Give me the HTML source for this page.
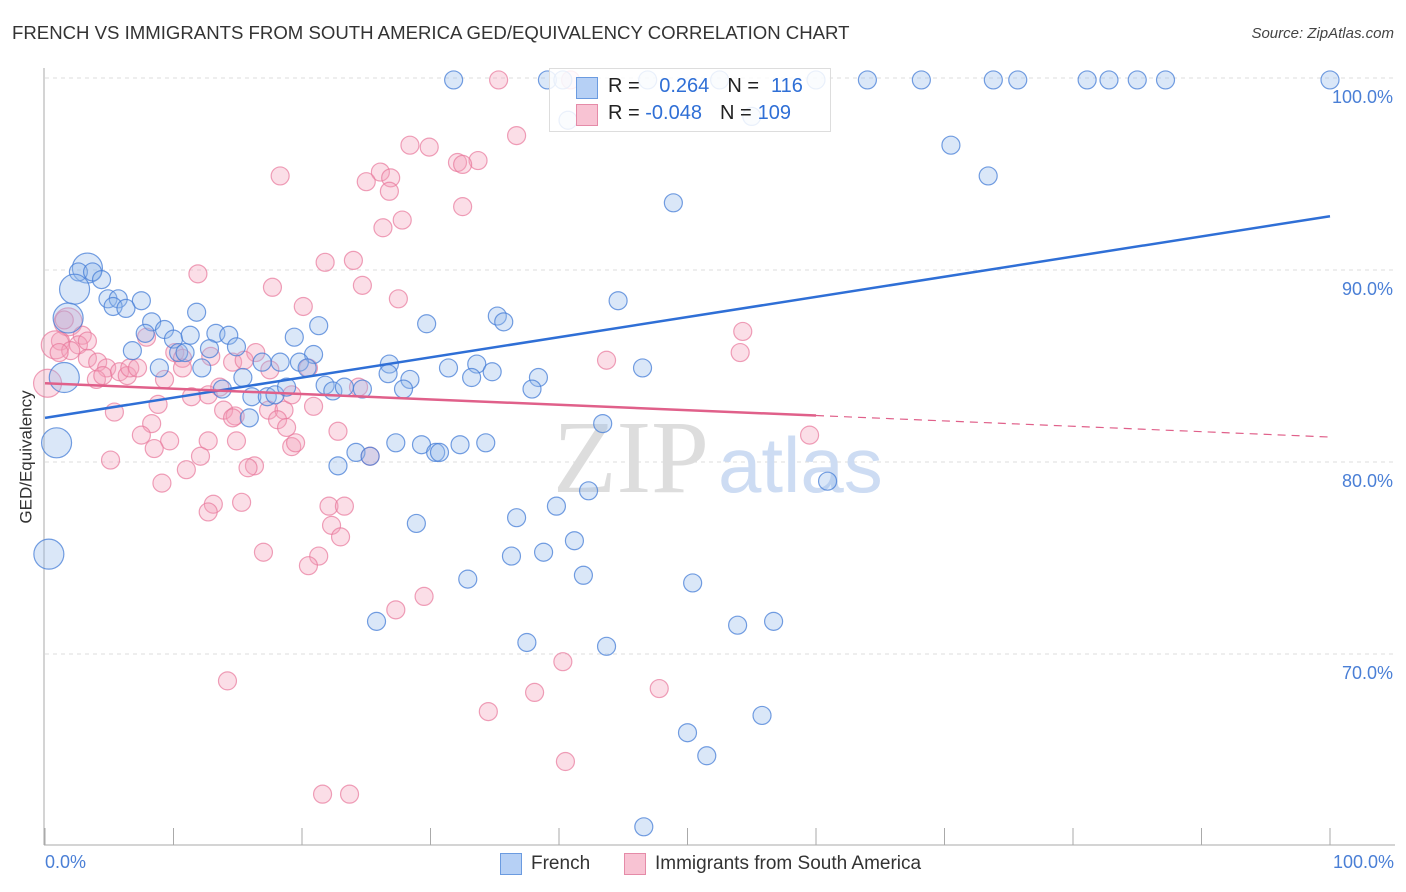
<!DOCTYPE html>
<html><head><meta charset="utf-8"><style>
body{margin:0;background:#fff;font-family:"Liberation Sans",sans-serif}
#wrap{position:relative;width:1406px;height:892px;overflow:hidden}
.t{position:absolute;white-space:nowrap}
</style></head><body>
<div id="wrap">
<div class="t" style="left:12px;top:22px;font-size:18.6px;color:#333">FRENCH VS IMMIGRANTS FROM SOUTH AMERICA GED/EQUIVALENCY CORRELATION CHART</div>
<div class="t" style="right:12px;top:25px;font-size:15px;color:#444;font-style:italic">Source: ZipAtlas.com</div>
<svg id="svg" width="1406" height="892" style="position:absolute;left:0;top:0"></svg>
</div>
<script>
const blueX=[31.8,39.1,40.3,46.9,52.5,60.0,64.0,68.2,73.8,75.7,81.1,82.8,85.0,87.2,100,40.7,55.0,70.5,73.4,48.9,3.3,2.6,3.7,4.4,2.3,4.9,5.7,7.5,5.3,6.3,1.8,8.3,11.8,21.3,44.6,35.2,35.7,29.7,7.8,9.3,10.0,11.3,13.3,14.3,19.4,6.8,10.4,10.9,12.8,14.9,20.9,12.2,8.9,16.9,18.3,19.8,20.4,15.4,26.8,31.4,33.6,34.8,26.7,28.4,33.2,38.4,37.9,46.5,1.5,13.8,16.1,17.3,17.9,18.8,21.8,22.4,23.3,24.7,27.9,43.4,0.9,15.9,27.3,29.3,30.4,30.7,32.3,34.3,24.2,25.3,22.8,42.3,60.9,39.8,36.7,28.9,41.2,38.8,36.3,0.3,41.9,32.9,50.4,25.8,53.9,56.7,37.5,43.7,55.8,50.0,51.5,46.6];
const blueY=[99.9,99.9,99.9,99.9,99.9,99.9,99.9,99.9,99.9,99.9,99.9,99.9,99.9,99.9,99.9,97.8,98.0,96.5,94.9,93.5,90.1,89.9,89.9,89.5,89.0,88.5,88.5,88.4,88.1,88.0,87.5,87.3,87.8,87.1,88.4,87.6,87.3,87.2,86.7,86.9,86.4,86.6,86.7,86.6,86.5,85.8,85.7,85.7,85.9,86.0,85.6,84.9,84.9,85.2,85.2,85.2,84.9,84.4,85.1,84.9,85.1,84.7,84.6,84.3,84.4,84.4,83.8,84.9,84.4,83.8,83.4,83.4,83.5,83.9,84.0,83.7,83.9,83.8,83.8,82.0,81.0,82.3,81.0,80.9,80.5,80.5,80.9,81.0,80.5,80.3,79.8,78.5,79.0,77.7,77.1,76.8,75.9,75.3,75.1,75.2,74.1,73.9,73.7,71.7,71.5,71.7,70.6,70.4,66.8,65.9,64.7,61.0];
const blueBig=[20,24,30,68,80,99];
const pinkX=[35.3,40.9,36.7,28.4,29.9,33.7,32.1,32.5,18.3,26.1,26.9,25.0,26.8,32.5,27.8,26.3,21.8,24.0,11.9,17.7,24.7,27.5,20.1,1.8,1.5,2.9,1.2,2.6,3.3,0.8,2.0,1.1,3.3,4.1,4.8,7.9,10.1,10.7,12.9,16.4,14.6,15.5,17.5,20.5,43.7,54.1,54.3,4.0,4.5,5.8,6.4,6.6,7.2,9.3,10.7,11.4,12.7,13.6,13.9,14.8,14.6,17.4,18.6,19.2,20.9,24.4,5.4,8.8,8.3,7.5,9.7,8.5,5.1,12.7,14.9,18.1,18.8,19.2,22.8,25.3,16.3,15.8,11.0,12.1,9.1,19.5,59.5,13.1,12.7,15.3,22.1,23.3,22.3,23.0,17.0,21.3,20.5,27.3,29.5,40.3,38.1,47.8,14.2,34.5,40.5,21.6,23.7,0.2];
const pinkY=[99.9,99.9,97.0,96.5,96.4,95.7,95.6,95.5,94.9,95.1,94.8,94.6,94.1,93.3,92.6,92.2,90.4,90.5,89.8,89.1,89.2,88.5,88.1,87.3,87.4,86.6,86.3,86.1,86.3,86.1,85.8,85.7,85.4,85.2,84.9,86.5,85.7,85.4,85.5,85.7,85.2,85.3,84.8,84.9,85.3,85.7,86.8,84.3,84.5,84.7,84.5,84.9,84.9,84.3,84.9,83.4,83.5,83.9,82.7,82.4,82.3,82.7,82.7,83.5,82.9,83.9,82.6,83.0,82.0,81.4,81.1,80.7,80.1,81.1,81.1,82.2,81.8,80.8,81.6,80.3,79.8,79.7,79.6,80.3,78.9,81.0,81.4,77.8,77.4,77.9,77.7,77.7,76.7,76.1,75.3,75.1,74.6,72.3,73.0,69.6,68.0,68.2,68.6,67.0,64.4,62.7,62.7,84.1];
const pinkBig=[23,29,107];
const yTicks=[70,80,90,100];
const blueTrend=[82.3,92.8];
const pinkTrend=[84.1,81.3];
const pinkSolidEnd=60;

const NS='http://www.w3.org/2000/svg';
const svg=document.getElementById('svg');
const X=v=>45+v*12.85;
const Y=v=>78+(100-v)*19.2;
function mk(tag,attrs,parent){const e=document.createElementNS(NS,tag);for(const k in attrs)e.setAttribute(k,attrs[k]);(parent||svg).appendChild(e);return e;}

yTicks.forEach(t=>{
  const g=mk('line',{x1:45,x2:1395,y1:Y(t),y2:Y(t),stroke:'#ddd','stroke-dasharray':'4,4'});
  
  
  const tx=mk('text',{x:1393,y:Y(t)+25,'text-anchor':'end','font-size':18,fill:'#4a7fd6','font-family':'Liberation Sans, sans-serif'});
  tx.textContent=t.toFixed(1)+'%';
  
  
});
const ax=mk('line',{x1:44,x2:44,y1:68,y2:845,stroke:'#aaa'});


const bx=mk('line',{x1:44,x2:1395,y1:845,y2:845,stroke:'#aaa'});


for(let i=0;i<=10;i++){
  const tk=mk('line',{x1:X(i*10),x2:X(i*10),y1:828,y2:845,stroke:'#aaa'});
  
  
}
const wm=mk('text',{x:553,y:492,'font-size':104,fill:'#ddd','font-family':'Liberation Serif, serif'});
wm.textContent='ZIP';


const wm2=mk('text',{x:718,y:492,'font-size':78,fill:'#cddcf3','font-family':'Liberation Sans, sans-serif'});
wm2.textContent='atlas';



pinkX.forEach((x,i)=>{
  const c=mk('circle',{cx:X(x),cy:Y(pinkY[i]),r:pinkBig.includes(i)?14:9,fill:'rgba(244,160,186,0.35)',stroke:'rgba(232,120,155,0.7)','stroke-width':1.2});
  
  
});
blueX.forEach((x,i)=>{
  const c=mk('circle',{cx:X(x),cy:Y(blueY[i]),r:blueBig.includes(i)?15:9,fill:'rgba(150,185,235,0.35)',stroke:'rgba(70,125,215,0.75)','stroke-width':1.2});
  
  
});
const bl=mk('line',{x1:X(0),y1:Y(blueTrend[0]),x2:X(100),y2:Y(blueTrend[1]),stroke:'#2f6fd6','stroke-width':2.5});


const pAt=v=>pinkTrend[0]+(pinkTrend[1]-pinkTrend[0])*v/100;
const pl=mk('line',{x1:X(0),y1:Y(pAt(0)),x2:X(pinkSolidEnd),y2:Y(pAt(pinkSolidEnd)),stroke:'#e0608a','stroke-width':2.5});


const pd=mk('line',{x1:X(pinkSolidEnd),y1:Y(pAt(pinkSolidEnd)),x2:X(100),y2:Y(pAt(100)),stroke:'#e0608a','stroke-width':1.2,'stroke-dasharray':'8,6'});


</script>
<div class="t" style="left:-40px;top:447px;font-size:17px;color:#333;transform:rotate(-90deg)">GED/Equivalency</div>
<div class="t" style="left:45px;top:852px;font-size:18px;color:#4a7fd6">0.0%</div>
<div class="t" style="right:12px;top:852px;font-size:18px;color:#4a7fd6">100.0%</div>
<div style="position:absolute;left:549px;top:68px;width:280px;height:62px;border:1px solid #ddd;background:rgba(255,255,255,0.85)">
 <div style="position:absolute;left:26px;top:8px;width:20px;height:20px;background:#b6d0f5;border:1px solid #6b9be0"></div>
 <div style="position:absolute;left:26px;top:35px;width:20px;height:20px;background:#f8c3d3;border:1px solid #e58ba8"></div>
 <div class="t" style="left:58px;top:6px;font-size:20px;color:#222">R = <span style="color:#2f6fd6;margin-left:14px">0.264</span><span style="margin-left:18px">N =</span><span style="color:#2f6fd6;margin-left:12px">116</span></div>
 <div class="t" style="left:58px;top:33px;font-size:20px;color:#222">R = <span style="color:#2f6fd6">-0.048</span><span style="margin-left:18px">N =</span><span style="color:#2f6fd6;margin-left:6px">109</span></div>
</div>
<div style="position:absolute;left:500px;top:853px;height:22px">
 <div style="position:absolute;left:0;top:0;width:20px;height:20px;background:#b6d0f5;border:1px solid #6b9be0"></div>
 <div class="t" style="left:31px;top:0;font-size:19px;color:#333">French</div>
</div>
<div style="position:absolute;left:624px;top:853px;height:22px">
 <div style="position:absolute;left:0;top:0;width:20px;height:20px;background:#f8c3d3;border:1px solid #e58ba8"></div>
 <div class="t" style="left:31px;top:0;font-size:19px;color:#333">Immigrants from South America</div>
</div>
</body></html>
